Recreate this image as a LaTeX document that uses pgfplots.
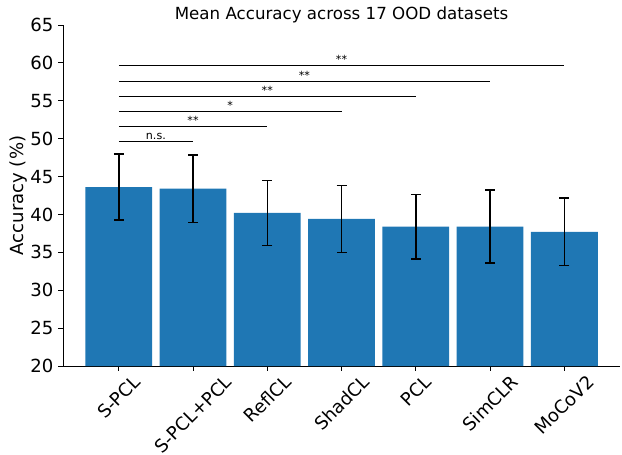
\documentclass[border=0pt]{standalone}
\usepackage{pgfplots}
\pgfplotsset{compat=1.18}
\usepackage{graphicx}
\usepackage{fontspec}
\setmainfont{DejaVu Sans}
\definecolor{mplblue}{HTML}{1F77B4}

\begin{document}
\begin{tikzpicture}
\begin{axis}[
    at={(0,0)}, anchor=south west,
    scale only axis,
    width=401pt, height=245.5pt,
    /pgf/number format/assume math mode=true,
    axis x line*=bottom, axis y line*=left,
    axis line style={line width=0.6pt},
    tick align=outside, major tick length=3.5pt,
    tick style={black, line width=0.6pt},
    xmin=-0.75, xmax=6.75,
    ymin=20, ymax=65,
    ytick={20,25,...,65},
    xtick={0,...,6},
    xticklabels={\rotatebox{45}{S-PCL},\rotatebox{45}{S-PCL+PCL},\rotatebox{45}{ReflCL},\rotatebox{45}{ShadCL},\rotatebox{45}{PCL},\rotatebox{45}{SimCLR},\rotatebox{45}{MoCoV2}},
    xticklabel style={anchor=north, font=\fontsize{13}{15}\selectfont, inner sep=2pt},
    yticklabel style={font=\fontsize{13}{15}\selectfont},
    ylabel={Accuracy (\%)},
    ylabel style={font=\fontsize{13}{15}\selectfont, yshift=-5pt},
    title={Mean Accuracy across 17 OOD datasets},
    title style={font=\fontsize{12}{14}\selectfont, yshift=-8pt},
    ]
    \addplot[ybar, bar width=0.9, fill=mplblue, draw=none,
        error bars/.cd, y dir=both, y explicit,
        error bar style={black, line width=1.1pt},
        error mark options={rotate=90, mark size=3.6pt, black, line width=1.1pt}]
      coordinates {
        (0,43.6) +- (0,4.35)
        (1,43.4) +- (0,4.45)
        (2,40.2) +- (0,4.3)
        (3,39.4) +- (0,4.4)
        (4,38.4) +- (0,4.25)
        (5,38.4) +- (0,4.8)
        (6,37.7) +- (0,4.45) };
    % significance brackets
    \addplot[black, line width=0.8pt] coordinates {(0,49.6) (1,49.6)}
        node[pos=0.5, above, inner sep=1pt, font=\fontsize{8}{9}\selectfont] {n.s.};
    \addplot[black, line width=0.8pt] coordinates {(0,51.6) (2,51.6)}
        node[pos=0.5, above, inner sep=1pt, font=\fontsize{8}{9}\selectfont] {**};
    \addplot[black, line width=0.8pt] coordinates {(0,53.6) (3,53.6)}
        node[pos=0.5, above, inner sep=1pt, font=\fontsize{8}{9}\selectfont] {*};
    \addplot[black, line width=0.8pt] coordinates {(0,55.6) (4,55.6)}
        node[pos=0.5, above, inner sep=1pt, font=\fontsize{8}{9}\selectfont] {**};
    \addplot[black, line width=0.8pt] coordinates {(0,57.6) (5,57.6)}
        node[pos=0.5, above, inner sep=1pt, font=\fontsize{8}{9}\selectfont] {**};
    \addplot[black, line width=0.8pt] coordinates {(0,59.6) (6,59.6)}
        node[pos=0.5, above, inner sep=1pt, font=\fontsize{8}{9}\selectfont] {**};
\end{axis}
\pgfresetboundingbox
\useasboundingbox (-45.4pt,-63.4pt) rectangle (402.4pt,263.5pt);
\end{tikzpicture}
\end{document}
